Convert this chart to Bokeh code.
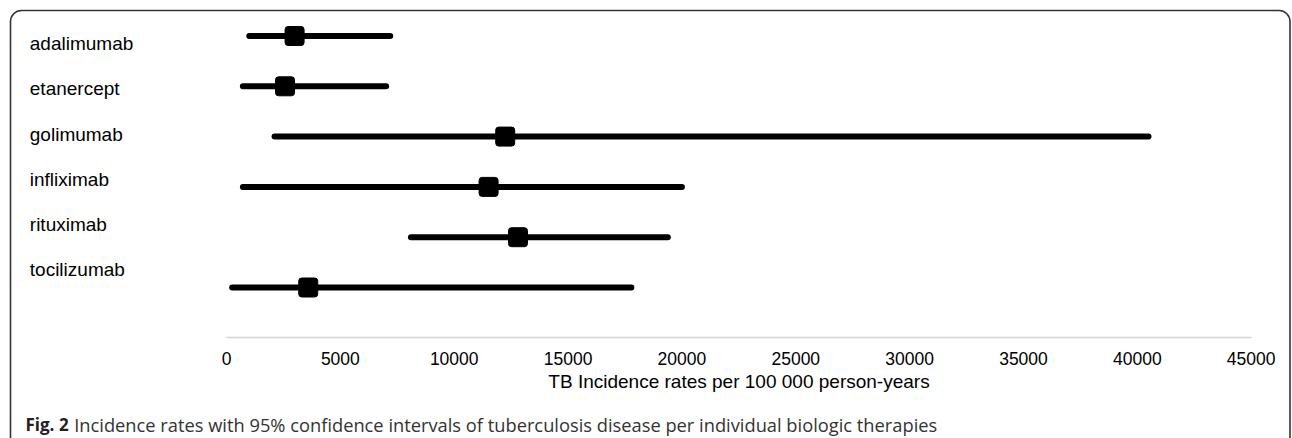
from bokeh.plotting import figure
from bokeh.models import Range1d, FixedTicker, Label, BoxAnnotation, ColumnDataSource
from bokeh.embed import file_html
from bokeh.resources import INLINE

# ---- data ----
categories = ["adalimumab", "etanercept", "golimumab", "infliximab", "rituximab", "tocilizumab"]
rate = [2990, 2570, 12240, 11510, 12800, 3590]
ci_low = [1000, 720, 2110, 720, 8100, 250]
ci_high = [7190, 7010, 40490, 20000, 19380, 17780]
x_ticks = [0, 5000, 10000, 15000, 20000, 25000, 30000, 35000, 40000, 45000]
x_title = "TB Incidence rates per 100 000 person-years"
caption_bold = "Fig. 2"
caption_text = "Incidence rates with 95% confidence intervals of tuberculosis disease per individual biologic therapies"

n = len(categories)
rows = [n - i for i in range(n)]
src = ColumnDataSource(dict(cat=categories, rate=rate, lo=ci_low, hi=ci_high, y=rows))

# ---- layout (pixels) ----
W, H = 1292, 438
X0_PX, X1_PX = 226.0, 1250.7          # pixel positions of axis start / end
XMAX = x_ticks[-1]
Y0_PX, ROW_PX = 337.3, 50.3           # pixel position of y=0 and row spacing
kx = (X1_PX - X0_PX) / XMAX
x_range = Range1d(-X0_PX / kx, (W - X0_PX) / kx)
y_range = Range1d(-(H - Y0_PX) / ROW_PX, Y0_PX / ROW_PX)

p = figure(width=W, height=H, output_backend="svg", toolbar_location=None,
           x_range=x_range, y_range=y_range, y_axis_location=None,
           min_border=0, min_border_left=0, min_border_right=0,
           min_border_top=0, min_border_bottom=0)
p.outline_line_color = None
p.xgrid.visible = False
p.ygrid.visible = False
p.background_fill_color = "white"
p.border_fill_color = "white"

ax = p.xaxis[0]
ax.fixed_location = 0
ax.bounds = (0, XMAX)
ax.ticker = FixedTicker(ticks=x_ticks)
ax.axis_line_color = "#d4d4d4"
ax.axis_line_width = 1.6
ax.major_tick_line_color = None
ax.minor_tick_line_color = None
ax.major_tick_out = 0
ax.major_tick_in = 0
ax.major_label_standoff = 14
ax.major_label_text_font = "Liberation Sans"
ax.major_label_text_font_size = "17.5px"
ax.major_label_text_color = "black"
ax.axis_label = x_title
ax.axis_label_text_font = "Liberation Sans"
ax.axis_label_text_font_size = "19px"
ax.axis_label_text_font_style = "normal"
ax.axis_label_text_color = "black"
ax.axis_label_standoff = 3

p.segment("lo", "y", "hi", "y", source=src, line_width=6, line_color="black", line_cap="round")
p.rect("rate", "y", width=19, height=19, width_units="screen", height_units="screen",
       source=src, fill_color="black", line_color="black", border_radius=3)

for i, c in enumerate(categories):
    p.add_layout(Label(x=29.3, y=43.3 + 45.1 * i, x_units="canvas", y_units="canvas", text=c,
                       text_font="Liberation Sans", text_font_size="19px",
                       text_baseline="alphabetic", text_align="left", text_color="black"))

p.add_layout(Label(x=25, y=424.3, x_units="canvas", y_units="canvas", text=caption_bold,
                   text_font="Open Sans", text_font_size="17px", text_font_style="bold",
                   text_baseline="alphabetic", text_color="#222222"))
p.add_layout(Label(x=73.7, y=424.3, x_units="canvas", y_units="canvas", text=caption_text,
                   text_font="Open Sans", text_font_size="18.3px",
                   text_baseline="alphabetic", text_color="#333333"))

p.add_layout(BoxAnnotation(left=10, right=1289.5, top=10, bottom=H + 40,
                           left_units="canvas", right_units="canvas",
                           top_units="canvas", bottom_units="canvas",
                           fill_color=None, fill_alpha=0, line_color="#333333",
                           line_alpha=1.0, line_width=1.6, border_radius=11))

open("out.html", "w").write(file_html(p, INLINE))
